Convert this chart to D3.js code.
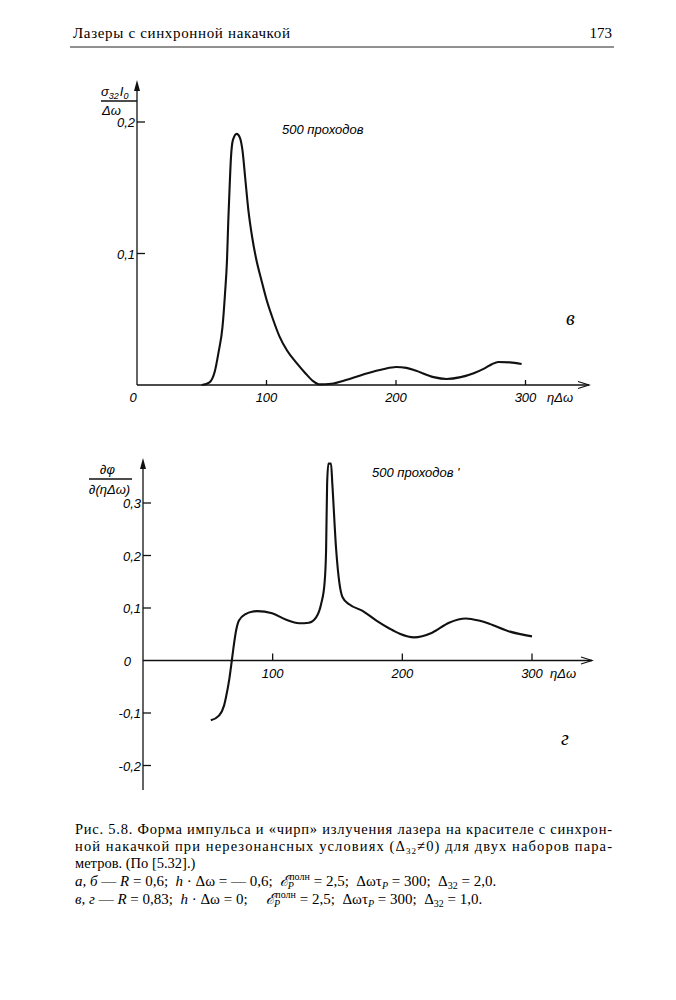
<!DOCTYPE html>
<html lang="ru">
<head>
<meta charset="UTF-8">
<title>Рис. 5.8</title>
<script src="https://d3js.org/d3.v7.min.js"></script>
<style>
  body { margin: 0; background: #fff; }
  svg { display: block; }
  .tick { font-family: "Liberation Sans", Arial, sans-serif; font-style: italic; font-size: 13px; }
  .serif { font-family: "Liberation Serif", "DejaVu Serif", serif; }
  .pre { white-space: pre; }
  .curve { fill: none; stroke: #111; stroke-width: 2.1px; stroke-linejoin: round; }
  .axis { stroke: #111; stroke-width: 1.3px; fill: none; }
</style>
</head>
<body>
<div id="chart"></div>
<script>
// --- data ---
const xTicks = [0, 100, 200, 300];

// panel "в": pulse shape, sigma32*I0/Δω vs ηΔω
const pulseX = [50, 56, 60, 63, 66, 68, 69.5, 70.5, 71.5, 72.5, 74, 77, 79.5, 81.5, 83.5, 86, 89, 92, 96, 100, 105, 110, 116, 123, 130, 136, 141, 150, 162, 178, 190, 200, 208, 215, 229, 239, 250, 260, 268, 274, 279, 288, 297];
const pulseY = [0, 0.002, 0.01, 0.025, 0.044, 0.07, 0.095, 0.125, 0.15, 0.172, 0.186, 0.191, 0.188, 0.178, 0.158, 0.133, 0.112, 0.096, 0.08, 0.065, 0.05, 0.037, 0.026, 0.017, 0.009, 0.003, 0.0005, 0.001, 0.004, 0.009, 0.012, 0.0137, 0.013, 0.011, 0.006, 0.0046, 0.006, 0.009, 0.0125, 0.0158, 0.0175, 0.0172, 0.016];
const pulseYTicks = [0.1, 0.2];
const pulseYLabels = ["0,1", "0,2"];

// panel "г": chirp dφ/d(ηΔω) vs ηΔω
const chirpX = [52.3, 58.6, 62.5, 64, 66.4, 68.5, 69.5, 71.8, 74, 79.5, 84, 88, 99.6, 110, 120.5, 128, 133.5, 137.5, 140, 141.2, 142, 143, 145, 146, 149, 151.5, 154, 159, 169, 180, 190, 198, 209, 223, 236, 249, 259, 267, 283, 300];
const chirpY = [-0.114, -0.105, -0.086, -0.07, -0.038, 0, 0.019, 0.057, 0.076, 0.089, 0.093, 0.094, 0.090, 0.078, 0.071, 0.072, 0.082, 0.109, 0.147, 0.21, 0.337, 0.375, 0.375, 0.337, 0.21, 0.147, 0.12, 0.107, 0.095, 0.076, 0.061, 0.051, 0.044, 0.053, 0.072, 0.080, 0.076, 0.070, 0.055, 0.046];
const chirpYTicks = [-0.2, -0.1, 0, 0.1, 0.2, 0.3];
const chirpYLabels = ["-0,2", "-0,1", "0", "0,1", "0,2", "0,3"];

const W = 676, H = 1000;
const svg = d3.select("#chart").append("svg").attr("width", W).attr("height", H);

// page header
svg.append("text").attr("class", "serif").attr("x", 73).attr("y", 38)
  .attr("font-size", 15).attr("textLength", 217).attr("lengthAdjust", "spacing")
  .text("Лазеры с синхронной накачкой");
svg.append("text").attr("class", "serif").attr("x", 612).attr("y", 38)
  .attr("font-size", 15).attr("text-anchor", "end").text("173");
svg.append("line").attr("x1", 70).attr("x2", 614).attr("y1", 47).attr("y2", 47)
  .attr("stroke", "#222").attr("stroke-width", 1.2);

function arrowUp(g, x, y) {
  g.append("path").attr("d", `M${x - 3},${y + 11} L${x},${y} L${x + 3},${y + 11} Z`).attr("fill", "#111");
}
function arrowRight(g, x, y) {
  g.append("path").attr("d", `M${x - 11},${y - 3.5} L${x},${y} L${x - 11},${y + 3.5}`)
    .attr("fill", "none").attr("stroke", "#111").attr("stroke-width", 1.2);
}

function panel(o) {
  const g = svg.append("g");
  const x = d3.scaleLinear().domain([0, 300]).range(o.xRange);
  const y = d3.scaleLinear().domain(o.yDomain).range(o.yRange);
  const x0 = x(0), y0 = y(0);

  // axes
  g.append("line").attr("class", "axis").attr("x1", x0).attr("x2", o.xEnd).attr("y1", y0).attr("y2", y0);
  arrowRight(g, o.xEnd, y0);
  g.append("line").attr("class", "axis").attr("x1", x0).attr("x2", x0).attr("y1", o.yBottom).attr("y2", o.yTop + 4);
  arrowUp(g, x0, o.yTop);

  // x ticks (upward) and labels
  g.selectAll(".xt").data(xTicks.filter(d => d > 0)).enter().append("line")
    .attr("class", "axis").attr("x1", d => x(d)).attr("x2", d => x(d))
    .attr("y1", y0).attr("y2", y0 - o.xTickLen);
  g.selectAll(".xl").data(o.xLabelTicks).enter().append("text")
    .attr("class", "tick").attr("x", d => x(d) - (d === 0 ? 4 : 0)).attr("y", y0 + 17)
    .attr("text-anchor", "middle").text(d => String(d));
  g.append("text").attr("class", "tick").attr("x", o.xEnd - 42).attr("y", y0 + 17)
    .attr("font-size", 15).text("ηΔω");

  // y ticks (to the right) and labels
  g.selectAll(".yt").data(o.yTicks.filter(d => d !== 0)).enter().append("line")
    .attr("class", "axis").attr("x1", x0).attr("x2", x0 + 8)
    .attr("y1", d => y(d)).attr("y2", d => y(d));
  g.selectAll(".yl").data(o.yTicks).enter().append("text")
    .attr("class", "tick").attr("x", d => d === 0 ? x0 - 12 : x0 - 2).attr("y", d => y(d) + 5)
    .attr("text-anchor", "end").text((d, i) => o.yLabels[i]);

  // curve
  const pts = o.xs.map((v, i) => [v, o.ys[i]]);
  g.append("path").datum(pts).attr("class", "curve")
    .attr("d", d3.line().x(d => x(d[0])).y(d => y(d[1])).curve(d3.curveMonotoneX));

  // annotations
  g.append("text").attr("class", "tick").attr("x", o.passX).attr("y", o.passY)
    .attr("font-size", 13).text(o.passText);
  g.append("text").attr("class", "serif").attr("x", o.letterX).attr("y", o.letterY)
    .attr("font-style", "italic").attr("font-size", 20).text(o.letter);
  return g;
}

const topPanel = panel({
  xRange: [137, 525.5], yDomain: [0, 0.2], yRange: [385, 122],
  xEnd: 589, yTop: 80, yBottom: 385, xTickLen: 5,
  xLabelTicks: [0, 100, 200, 300],
  yTicks: pulseYTicks, yLabels: pulseYLabels,
  xs: pulseX, ys: pulseY,
  passX: 282, passY: 134, passText: "500 проходов",
  letterX: 566, letterY: 325, letter: "в"
});
// y label: sigma32 I0 / Δω
const tl = topPanel.append("text").attr("class", "tick").attr("x", 101).attr("y", 96).attr("font-size", 15);
tl.append("tspan").text("σ");
tl.append("tspan").attr("font-size", 9).attr("dy", 3).text("32");
tl.append("tspan").attr("dy", -3).attr("dx", 1).text("I");
tl.append("tspan").attr("font-size", 9).attr("dy", 3).text("0");
topPanel.append("line").attr("class", "axis").attr("x1", 101).attr("x2", 137).attr("y1", 101).attr("y2", 101);
topPanel.append("text").attr("class", "tick").attr("x", 102).attr("y", 115).attr("font-size", 15).text("Δω");

const bottomPanel = panel({
  xRange: [143, 532], yDomain: [-0.1, 0.3], yRange: [713, 503],
  xEnd: 592, yTop: 458, yBottom: 790, xTickLen: 7,
  xLabelTicks: [100, 200, 300],
  yTicks: chirpYTicks, yLabels: chirpYLabels,
  xs: chirpX, ys: chirpY,
  passX: 372, passY: 477, passText: "500 проходов '",
  letterX: 561, letterY: 745, letter: "г"
});
bottomPanel.append("text").attr("class", "tick").attr("x", 100).attr("y", 474).attr("font-size", 15).text("∂φ");
bottomPanel.append("line").attr("class", "axis").attr("x1", 89).attr("x2", 132).attr("y1", 479).attr("y2", 479);
bottomPanel.append("text").attr("class", "tick").attr("x", 89).attr("y", 494).attr("font-size", 14).text("∂(ηΔω)");

// caption
const cap = svg.append("g").attr("class", "serif").attr("font-size", 14.5);
cap.append("text").attr("x", 75).attr("y", 834).attr("textLength", 537).attr("lengthAdjust", "spacing")
  .text("Рис. 5.8. Форма импульса и «чирп» излучения лазера на красителе с синхрон-");
const l2 = cap.append("text").attr("x", 75).attr("y", 851).attr("textLength", 537).attr("lengthAdjust", "spacing");
l2.append("tspan").text("ной накачкой при нерезонансных условиях (Δ");
l2.append("tspan").attr("font-size", 9).attr("dy", 3).text("32");
l2.append("tspan").attr("dy", -3).text("≠0) для двух наборов пара-");
cap.append("text").attr("x", 75).attr("y", 868).text("метров. (По [5.32].)");

function paramLine(yPos, parts) {
  const t = cap.append("text").attr("class", "pre").attr("x", 75).attr("y", yPos).attr("font-size", 15);
  parts.forEach(p => {
    const s = t.append("tspan").text(p.t);
    if (p.i) s.attr("font-style", "italic");
    if (p.sub) s.attr("font-size", 10).attr("dy", 3);
    if (p.sup) s.attr("font-size", 10).attr("dy", -6);
    if (p.dy) s.attr("dy", p.dy);
    if (p.dx) s.attr("dx", p.dx);
  });
}
paramLine(886, [
  { t: "а, б", i: true }, { t: " — " }, { t: "R", i: true }, { t: " = 0,6;  " },
  { t: "h", i: true }, { t: " · Δω = — 0,6;  " }, { t: "ℰ", i: true },
  { t: "полн", sup: true }, { t: "P", i: true, sub: true, dx: -22, dy: 9 },
  { t: " = 2,5;  Δωτ", dx: 16, dy: -3 }, { t: "P", i: true, sub: true },
  { t: " = 300;  Δ", dy: -3 }, { t: "32", sub: true }, { t: " = 2,0.", dy: -3 }
]);
paramLine(904, [
  { t: "в, г", i: true }, { t: " — " }, { t: "R", i: true }, { t: " = 0,83;  " },
  { t: "h", i: true }, { t: " · Δω = 0;     " }, { t: "ℰ", i: true },
  { t: "полн", sup: true }, { t: "P", i: true, sub: true, dx: -22, dy: 9 },
  { t: " = 2,5;  Δωτ", dx: 16, dy: -3 }, { t: "P", i: true, sub: true },
  { t: " = 300;  Δ", dy: -3 }, { t: "32", sub: true }, { t: " = 1,0.", dy: -3 }
]);
</script>
</body>
</html>
